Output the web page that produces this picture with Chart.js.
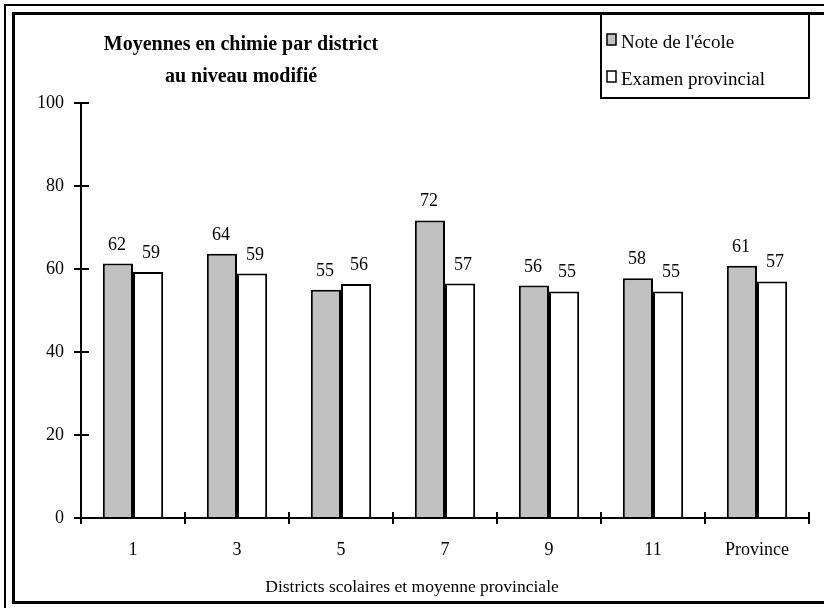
<!DOCTYPE html>
<html>
<head>
<meta charset="utf-8">
<script src="https://cdn.jsdelivr.net/npm/chart.js@4/dist/chart.umd.min.js"></script>
<style>
  html, body { margin: 0; padding: 0; background: #fff; }
  #wrap { width: 824px; height: 608px; position: relative; }
</style>
</head>
<body>
<div id="wrap"><canvas id="c" width="824" height="608"></canvas></div>
<script>
// ---- data ----
const categories = ['1', '3', '5', '7', '9', '11', 'Province'];
const schoolValues = [61.3, 63.7, 55.0, 71.7, 56.0, 57.8, 60.8];
const examValues   = [59.3, 58.9, 56.4, 56.5, 54.6, 54.6, 57.0];
const schoolLabels = ['62', '64', '55', '72', '56', '58', '61'];
const examLabels   = ['59', '59', '56', '57', '55', '55', '57'];
const yTicks = [0, 20, 40, 60, 80, 100];
const seriesNames = ["Note de l'école", 'Examen provincial'];
const titleLines = ['Moyennes en chimie par district', 'au niveau modifié'];
const xTitle = 'Districts scolaires et moyenne provinciale';

const SERIF = "'Liberation Serif', 'Times New Roman', serif";
const GRAY = '#c0c0c0';
const FS = 18;

const decor = {
  id: 'decor',
  beforeDraw(chart) {
    const ctx = chart.ctx;
    ctx.save();
    ctx.fillStyle = '#fff';
    ctx.fillRect(0, 0, chart.width, chart.height);
    ctx.restore();
  },
  afterDraw(chart) {
    const ctx = chart.ctx;
    const xs = chart.scales.x, ys = chart.scales.y;
    ctx.save();
    // frames
    ctx.strokeStyle = '#000';
    ctx.lineWidth = 2;
    ctx.strokeRect(5, 5, 840, 640);
    ctx.lineWidth = 3;
    ctx.strokeRect(13.5, 13.5, 840, 589);
    // inward tick marks on y axis
    ctx.lineWidth = 2;
    yTicks.forEach(v => {
      const y = Math.round(ys.getPixelForValue(v));
      ctx.beginPath();
      ctx.moveTo(xs.left, y);
      ctx.lineTo(xs.left + 8, y);
      ctx.stroke();
    });
    // inward tick marks on x axis (category boundaries)
    const n = categories.length;
    const step = (xs.right - xs.left) / n;
    for (let i = 1; i <= n; i++) {
      const x = Math.round(xs.left + i * step);
      ctx.beginPath();
      ctx.moveTo(x, ys.bottom);
      ctx.lineTo(x, ys.bottom - 6);
      ctx.stroke();
    }
    // data labels
    ctx.fillStyle = '#000';
    ctx.font = FS + 'px ' + SERIF;
    ctx.textAlign = 'center';
    ctx.textBaseline = 'alphabetic';
    [schoolLabels, examLabels].forEach((labs, di) => {
      const meta = chart.getDatasetMeta(di);
      meta.data.forEach((bar, i) => {
        ctx.fillText(labs[i], bar.x + (di === 0 ? -1 : 3), bar.y - 14);
      });
    });
    // x axis title
    ctx.textBaseline = 'middle';
    ctx.font = '17.5px ' + SERIF;
    ctx.fillText(xTitle, 412, 587);
    // title
    ctx.font = 'bold 20px ' + SERIF;
    ctx.fillText(titleLines[0], 241, 45);
    ctx.fillText(titleLines[1], 241, 77);
    // legend
    ctx.lineWidth = 2;
    ctx.strokeRect(601, 14, 208, 84);
    const fills = [GRAY, '#fff'];
    ctx.font = '19px ' + SERIF;
    ctx.textAlign = 'left';
    [43, 80].forEach((cy, i) => {
      ctx.fillStyle = fills[i];
      ctx.fillRect(607, cy - 9, 9, 11);
      ctx.lineWidth = 1.5;
      ctx.strokeRect(607, cy - 9, 9, 11);
      ctx.fillStyle = '#000';
      ctx.fillText(seriesNames[i], 621, cy);
    });
    ctx.restore();
  }
};

new Chart(document.getElementById('c'), {
  type: 'bar',
  data: {
    labels: categories,
    datasets: [
      { label: seriesNames[0], data: schoolValues, backgroundColor: GRAY, borderColor: '#000', borderWidth: 2, borderSkipped: 'bottom' },
      { label: seriesNames[1], data: examValues, backgroundColor: '#fff', borderColor: '#000', borderWidth: 2, borderSkipped: 'bottom' }
    ]
  },
  options: {
    responsive: false,
    animation: false,
    devicePixelRatio: 1,
    layout: { padding: { left: 0, right: 15, top: 103, bottom: 0 } },
    plugins: { legend: { display: false }, title: { display: false }, tooltip: { enabled: false } },
    datasets: { bar: { categoryPercentage: 0.58, barPercentage: 1.0 } },
    scales: {
      x: {
        offset: true,
        grid: { display: true, drawOnChartArea: false, drawTicks: true, tickLength: 6, color: '#000', lineWidth: 2, offset: true },
        border: { display: true, color: '#000', width: 2 },
        ticks: { color: '#000', font: { family: SERIF, size: FS }, padding: 15, maxRotation: 0 },
        afterFit(s) { s.height = 90; }
      },
      y: {
        min: 0, max: 100,
        afterBuildTicks(s) { s.ticks = yTicks.map(v => ({ value: v })); },
        grid: { display: true, drawOnChartArea: false, drawTicks: true, tickLength: 7, color: '#000', lineWidth: 2 },
        border: { display: true, color: '#000', width: 2 },
        ticks: { color: '#000', font: { family: SERIF, size: FS }, padding: 10 },
        afterFit(s) { s.width = 81; }
      }
    }
  },
  plugins: [decor]
});
</script>
</body>
</html>
